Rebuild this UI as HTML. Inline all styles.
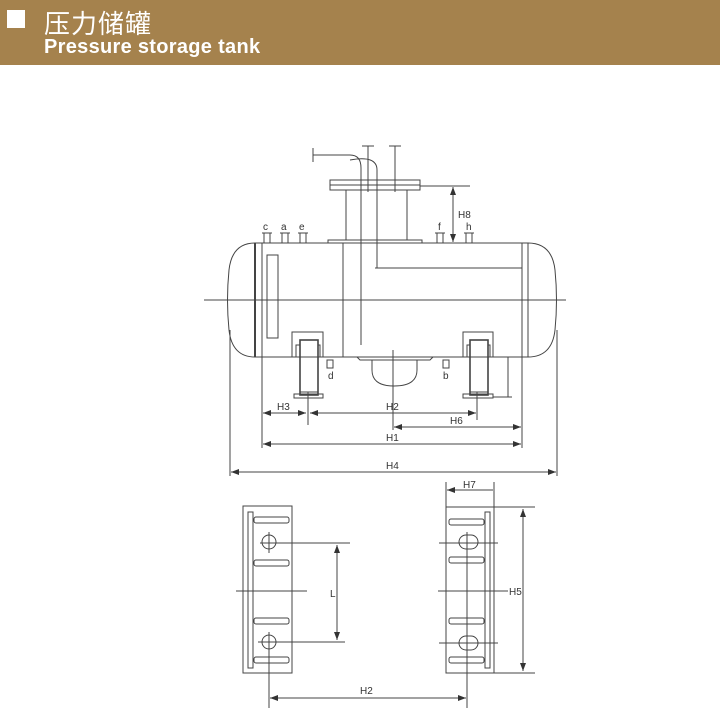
<!DOCTYPE html>
<html><head><meta charset="utf-8"><style>
body{margin:0;width:720px;height:718px;background:#fff;overflow:hidden;position:relative;font-family:"Liberation Sans",sans-serif}
#hd{position:absolute;left:0;top:0;width:720px;height:65px;background:#a5824d}
#sq{position:absolute;left:7px;top:10px;width:18px;height:18px;background:#fff}
#cn{position:absolute;left:44px;top:4px;font-size:26px;color:#fff;font-family:"Liberation Sans","Noto Sans CJK SC",sans-serif;letter-spacing:1px}
#en{position:absolute;left:44px;top:36px;font-size:20px;font-weight:bold;color:#fff;letter-spacing:0.3px}
svg{position:absolute;left:0;top:0}
</style></head><body>
<div id="hd"><div id="sq"></div><div id="cn">压力储罐</div><div id="en">Pressure storage tank</div></div>
<svg width="720" height="718" viewBox="0 0 720 718" fill="none" stroke="#444" stroke-width="1" font-family="Liberation Sans, sans-serif" font-size="10">
<defs><marker id="a" markerWidth="8" markerHeight="6" refX="8" refY="3" orient="auto-start-reverse"><path d="M0,0L8,3L0,6z" fill="#333" stroke="none"/></marker></defs>
<line x1="255" y1="243" x2="528" y2="243"/><line x1="255" y1="357" x2="528" y2="357"/>
<path d="M255,243 Q232,243 229,270 Q226,300 229,330 Q232,357 255,357"/>
<path d="M528,243 Q552,243 555,270 Q558,300 555,330 Q552,357 528,357"/>
<line x1="255" y1="243" x2="255" y2="357" stroke-width="2"/><line x1="262" y1="243" x2="262" y2="357"/>
<line x1="522" y1="243" x2="522" y2="357"/><line x1="528" y1="243" x2="528" y2="357"/>
<rect x="267" y="255" width="11" height="83"/>
<line x1="204" y1="300" x2="566" y2="300"/>
<line x1="343" y1="243" x2="343" y2="357"/>
<line x1="375" y1="268" x2="522" y2="268"/>
<rect x="330" y="180" width="90" height="10"/><line x1="330" y1="185" x2="420" y2="185"/>
<line x1="346" y1="190" x2="346" y2="240"/><line x1="407" y1="190" x2="407" y2="240"/>
<rect x="328" y="240" width="94" height="3"/>
<path d="M313,155 H350 Q361,155 361,168 V345"/>
<path d="M350,160 Q377,155 377,170 V268"/>
<line x1="313" y1="148" x2="313" y2="162"/>
<line x1="368" y1="146" x2="368" y2="192"/><line x1="362" y1="146" x2="374" y2="146"/>
<line x1="395" y1="146" x2="395" y2="192"/><line x1="389" y1="146" x2="401" y2="146"/>
<g><rect x="264" y="233" width="6" height="10"/><rect x="282" y="233" width="6" height="10"/><rect x="300" y="233" width="6" height="10"/><rect x="437" y="233" width="6" height="10"/><rect x="466" y="233" width="6" height="10"/>
<line x1="262" y1="233" x2="272" y2="233"/><line x1="280" y1="233" x2="290" y2="233"/><line x1="298" y1="233" x2="308" y2="233"/><line x1="435" y1="233" x2="445" y2="233"/><line x1="464" y1="233" x2="474" y2="233"/></g>
<g fill="#333" stroke="none"><text x="263" y="230">c</text><text x="281" y="230">a</text><text x="299" y="230">e</text><text x="438" y="230">f</text><text x="466" y="230">h</text></g>
<line x1="420" y1="186" x2="470" y2="186"/><line x1="453" y1="187" x2="453" y2="242" marker-start="url(#a)" marker-end="url(#a)"/>
<text x="458" y="218" fill="#333" stroke="none">H8</text>
<path d="M292,357 V332 H323 V357"/><path d="M296,357 V345 H300 V392 H318 V345 H320 V357"/><rect x="300" y="340" width="18" height="55" stroke-width="1.6"/><rect x="294" y="394" width="29" height="4"/>
<path d="M463,357 V332 H493 V357"/><path d="M467,357 V345 H470 V392 H488 V345 H490 V357"/><rect x="470" y="340" width="18" height="55" stroke-width="1.6"/><rect x="463" y="394" width="30" height="4"/>
<line x1="508" y1="357" x2="508" y2="397"/><line x1="493" y1="397" x2="512" y2="397"/>
<path d="M357,357 L360,360 H430 L433,357"/>
<path d="M372,360 V370 Q372,386 394,386 Q417,386 417,370 V360"/>
<line x1="393" y1="350" x2="393" y2="430"/>
<rect x="327" y="360" width="6" height="8"/><rect x="443" y="360" width="6" height="8"/>
<g fill="#333" stroke="none"><text x="328" y="379">d</text><text x="443" y="379">b</text></g>
<line x1="262" y1="357" x2="262" y2="448"/><line x1="522" y1="357" x2="522" y2="448"/>
<line x1="230" y1="330" x2="230" y2="476"/><line x1="557" y1="330" x2="557" y2="476"/>
<line x1="308" y1="392" x2="308" y2="425"/><line x1="477" y1="392" x2="477" y2="420"/>
<line x1="263" y1="413" x2="306" y2="413" marker-start="url(#a)" marker-end="url(#a)"/>
<line x1="310" y1="413" x2="476" y2="413" marker-start="url(#a)" marker-end="url(#a)"/>
<line x1="394" y1="427" x2="521" y2="427" marker-start="url(#a)" marker-end="url(#a)"/>
<line x1="263" y1="444" x2="521" y2="444" marker-start="url(#a)" marker-end="url(#a)"/>
<line x1="231" y1="472" x2="556" y2="472" marker-start="url(#a)" marker-end="url(#a)"/>
<g fill="#333" stroke="none"><text x="277" y="410">H3</text><text x="386" y="410">H2</text><text x="450" y="424">H6</text><text x="386" y="441">H1</text><text x="386" y="469">H4</text></g>
<rect x="243" y="506" width="49" height="167"/><rect x="248" y="512" width="5" height="156"/>
<rect x="254" y="517" width="35" height="6" rx="2"/><rect x="254" y="560" width="35" height="6" rx="2"/><rect x="254" y="618" width="35" height="6" rx="2"/><rect x="254" y="657" width="35" height="6" rx="2"/>
<circle cx="269" cy="542" r="7"/><circle cx="269" cy="642" r="7"/>
<line x1="269" y1="532" x2="269" y2="553"/><line x1="260" y1="543" x2="350" y2="543"/>
<line x1="258" y1="642" x2="345" y2="642"/><line x1="269" y1="632" x2="269" y2="708"/>
<line x1="236" y1="591" x2="307" y2="591"/>
<line x1="337" y1="545" x2="337" y2="640" marker-start="url(#a)" marker-end="url(#a)"/>
<text x="330" y="597" fill="#333" stroke="none">L</text>
<line x1="270" y1="698" x2="466" y2="698" marker-start="url(#a)" marker-end="url(#a)"/>
<text x="360" y="694" fill="#333" stroke="none">H2</text>
<rect x="446" y="507" width="48" height="166"/><rect x="485" y="512" width="5" height="156"/>
<rect x="449" y="519" width="35" height="6" rx="2"/><rect x="449" y="557" width="35" height="6" rx="2"/><rect x="449" y="618" width="35" height="6" rx="2"/><rect x="449" y="657" width="35" height="6" rx="2"/>
<rect x="459" y="535" width="19" height="14" rx="7"/><rect x="459" y="636" width="19" height="14" rx="7"/>
<line x1="439" y1="543" x2="498" y2="543"/><line x1="439" y1="643" x2="498" y2="643"/>
<line x1="467" y1="532" x2="467" y2="708"/>
<line x1="438" y1="591" x2="508" y2="591"/>
<line x1="494" y1="507" x2="535" y2="507"/><line x1="494" y1="673" x2="535" y2="673"/>
<line x1="523" y1="509" x2="523" y2="671" marker-start="url(#a)" marker-end="url(#a)"/>
<text x="509" y="595" fill="#333" stroke="none">H5</text>
<line x1="446" y1="482" x2="446" y2="507"/><line x1="494" y1="482" x2="494" y2="507"/>
<line x1="447" y1="490" x2="493" y2="490" marker-start="url(#a)"/>
<text x="463" y="488" fill="#333" stroke="none">H7</text>
</svg>
</body></html>
